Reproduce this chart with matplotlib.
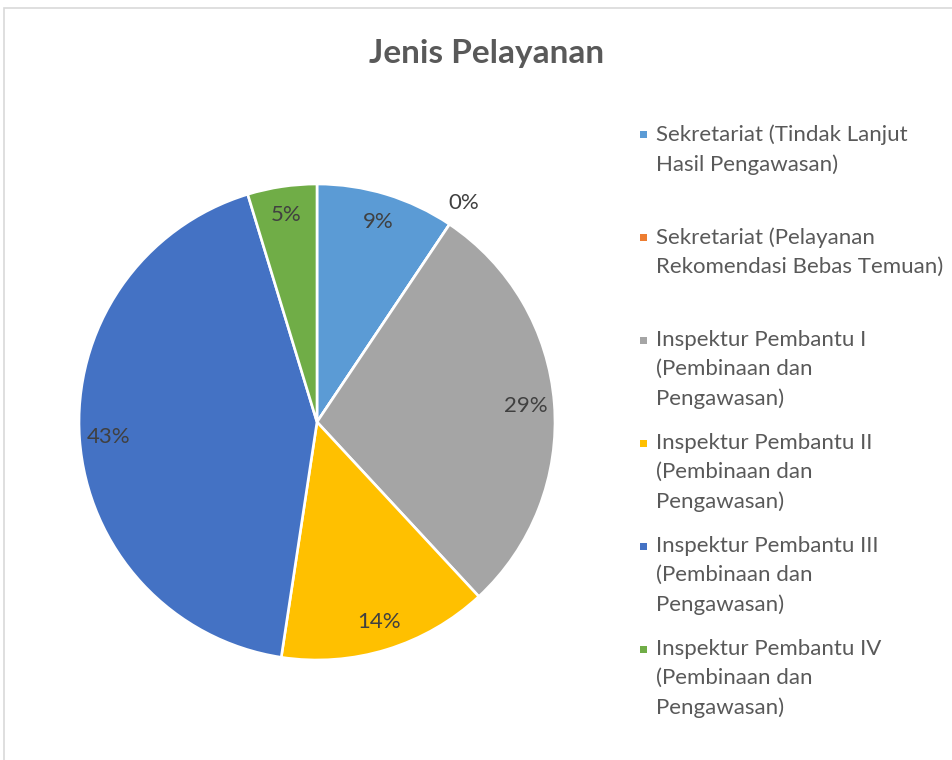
import matplotlib
matplotlib.use("Agg")
import matplotlib.pyplot as plt
import numpy as np

plt.rcParams['font.family'] = ['Lato', 'DejaVu Sans']

categories = [
    "Sekretariat (Tindak Lanjut\nHasil Pengawasan)",
    "Sekretariat (Pelayanan\nRekomendasi Bebas Temuan)",
    "Inspektur Pembantu I\n(Pembinaan dan\nPengawasan)",
    "Inspektur Pembantu II\n(Pembinaan dan\nPengawasan)",
    "Inspektur Pembantu III\n(Pembinaan dan\nPengawasan)",
    "Inspektur Pembantu IV\n(Pembinaan dan\nPengawasan)",
]
values = [9.4, 0.0, 28.7, 14.3, 42.9, 4.7]
colors = ["#5B9BD5", "#ED7D31", "#A5A5A5", "#FFC000", "#4472C4", "#70AD47"]
title = "Jenis Pelayanan"

W, H = 952, 760
fig = plt.figure(figsize=(W / 100, H / 100), dpi=100)

# chart border (light gray)
fig.patches.append(plt.Rectangle((4 / W, -0.1), 1.2, (H - 8) / H + 0.1,
                                 transform=fig.transFigure, fill=False,
                                 edgecolor="#D9D9D9", linewidth=1.2))

cx, cy, r = 317, 422, 238
ax = fig.add_axes([(cx - r) / W, (H - cy - r) / H, 2 * r / W, 2 * r / H])
wedges, _ = ax.pie(values, colors=colors, startangle=90, counterclock=False,
                   radius=1.0, wedgeprops=dict(edgecolor="white", linewidth=1.9))
ax.set_xlim(-1, 1)
ax.set_ylim(-1, 1)
ax.set_aspect("equal")
ax.axis("off")

total = sum(values)
for w, v in zip(wedges, values):
    mid = np.deg2rad((w.theta1 + w.theta2) / 2)
    pct = f"{round(100 * v / total):.0f}%"
    rr = 1.11 if v == 0 else 0.88
    ax.text(rr * np.cos(mid), rr * np.sin(mid), pct, ha="center", va="center",
            fontsize=16, color="#404040")

fig.text(487 / W, 1 - 54 / H, title, ha="center", va="center", fontsize=24,
         fontweight="bold", color="#595959")

# legend
for i, (lab, c) in enumerate(zip(categories, colors)):
    y = 134 + 103 * i
    fig.patches.append(plt.Rectangle(((643 - 3.5) / W, 1 - (y + 3.5) / H), 7 / W, 7 / H,
                                     transform=fig.transFigure, facecolor=c,
                                     edgecolor="none"))
    fig.text(656 / W, 1 - (y - 10) / H, lab, ha="left", va="top", fontsize=16,
             color="#595959", linespacing=1.58)

fig.savefig("out.png", dpi=100)
